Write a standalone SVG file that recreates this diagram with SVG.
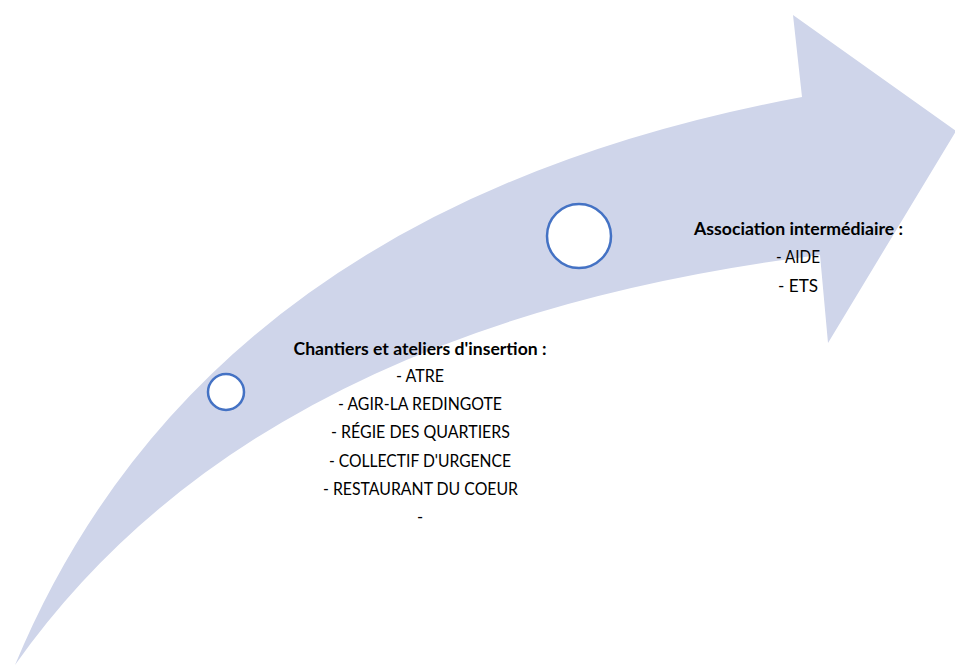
<svg xmlns="http://www.w3.org/2000/svg" width="955" height="666" viewBox="0 0 955 666">
<style>
.t{font-family:"Lato","Liberation Sans",sans-serif;font-size:16.5px;fill:#000;text-anchor:middle}
.b{font-weight:bold}
.c{fill:#fff;stroke:#4472C4;stroke-width:2.5}
</style>
<rect width="955" height="666" fill="#fff"/>
<g id="arrow">
<path d="M15,665 Q205,208 802,97 L793,15 L956,131 L828,343 L820,255 Q255,325 15,665 Z" fill="#CFD5EA"/>
</g>
<g id="circle1"><circle class="c" cx="226" cy="392" r="18"/></g>
<g id="circle2"><circle class="c" cx="579" cy="236" r="32"/></g>
<g id="chantiers">
<text class="t b" x="420" y="355" textLength="253" lengthAdjust="spacingAndGlyphs">Chantiers et ateliers d'insertion :</text>
<text class="t" x="420" y="382" textLength="48" lengthAdjust="spacingAndGlyphs">- ATRE</text>
<text class="t" x="420" y="410" textLength="164" lengthAdjust="spacingAndGlyphs">- AGIR-LA REDINGOTE</text>
<text class="t" x="420.5" y="438" textLength="179" lengthAdjust="spacingAndGlyphs">- RÉGIE DES QUARTIERS</text>
<text class="t" x="420" y="467" textLength="182" lengthAdjust="spacingAndGlyphs">- COLLECTIF D'URGENCE</text>
<text class="t" x="420.5" y="495" textLength="195" lengthAdjust="spacingAndGlyphs">- RESTAURANT DU COEUR</text>
<text class="t" x="420" y="523">-</text>
</g>
<g id="association">
<text class="t b" x="798.5" y="235" textLength="209" lengthAdjust="spacingAndGlyphs">Association intermédiaire :</text>
<text class="t" x="798" y="263" textLength="44" lengthAdjust="spacingAndGlyphs">- AIDE</text>
<text class="t" x="798" y="292" textLength="40" lengthAdjust="spacingAndGlyphs">- ETS</text>
</g>
<g id="connectors"></g>
</svg>
